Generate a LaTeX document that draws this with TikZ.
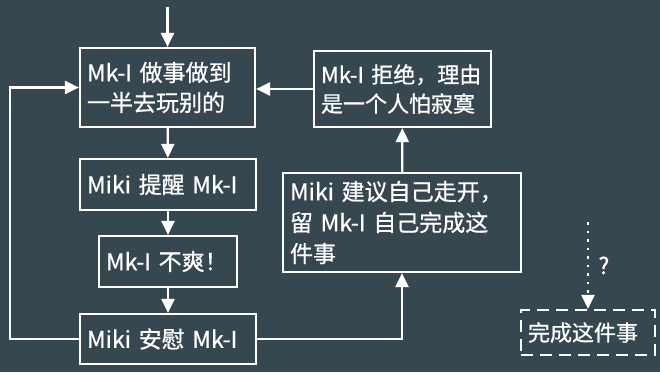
\documentclass[tikz,border=0pt]{standalone}
\usepackage{fontspec}
\setmainfont{Noto Sans CJK SC}[FakeBold=0.7]
\usetikzlibrary{arrows.meta}
\definecolor{slate}{HTML}{37474F}
\begin{document}
\begin{tikzpicture}[
  x=1pt, y=-1pt,
  every node/.style={text=white, font=\fontsize{23}{30}\selectfont},
  stepbox/.style={draw=white, line width=2.2pt, align=left, inner xsep=7pt, inner ysep=0pt},
  goalbox/.style={stepbox, dash pattern=on 12pt off 7pt, font=\fontsize{22}{28}\selectfont},
  flow/.style={draw=white, line width=2.2pt, -{Triangle[length=14pt,width=13pt]}},
  maybe/.style={flow, dash pattern=on 2.5pt off 6pt}
]
\fill[slate] (0,0) rectangle (660,372);
\useasboundingbox (0,0) rectangle (660,372);

\node[stepbox, text width=161pt, minimum height=79pt] (work) at (167.5,87.5) {Mk-I~做事做到\\一半去玩别的};
\node[stepbox, text width=162pt, minimum height=51pt] (remind) at (168,184.5) {Miki~提醒~Mk-I};
\node[stepbox, text width=124pt, minimum height=51pt] (upset) at (168,261.5) {Mk-I~不爽！};
\node[stepbox, text width=162pt, minimum height=50pt] (comfort) at (168,339) {Miki~安慰~Mk-I};
\node[stepbox, text width=224pt, minimum height=99pt, font=\fontsize{23}{31}\selectfont] (suggest) at (402,222.5) {Miki~建议自己走开，\\留~Mk-I~自己完成这\\件事};
\node[stepbox, text width=163pt, minimum height=76pt, font=\fontsize{22}{29}\selectfont] (refuse) at (402.5,89) {Mk-I~拒绝，理由\\是一个人怕寂寞};
\node[goalbox, text width=120pt, minimum height=45pt] (goal) at (588,332.5) {完成这件事};

\coordinate (entry) at (167.5,7);
\coordinate (doubt) at (588,222);

\draw[flow] (entry) -- (work);
\draw[flow] (work) -- (remind);
\draw[flow] (remind) -- (upset);
\draw[flow] (upset) -- (comfort);
\draw[flow] (comfort.west) -- ++(-69,0) |- (work.west);
\draw[flow] (comfort.east) -| (suggest.south);
\draw[flow] (suggest) -- (refuse);
\draw[flow] (refuse.west) -- (refuse.west -| work.east);
\draw[maybe] (doubt) -- node[right, xshift=6pt] (ask) {?} (goal);
\end{tikzpicture}
\end{document}
